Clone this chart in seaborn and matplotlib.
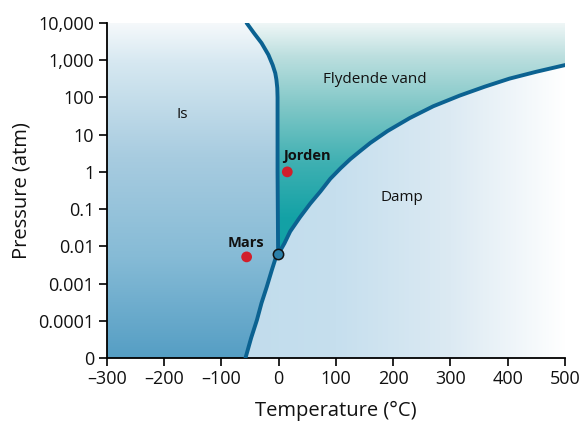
import numpy as np
import matplotlib
matplotlib.use("Agg")
import matplotlib.pyplot as plt
from matplotlib.path import Path
from matplotlib.patches import PathPatch
from matplotlib.colors import LinearSegmentedColormap
import seaborn as sns

# phase boundaries (temperature in C, pressure in atm)
melt_t = [-56, -43, -30, -18, -10.5, -6, -4, -2.5, -2, -2, -1]
melt_p = [10000, 5300, 2900, 1400, 740, 450, 300, 180, 100, 1, 0.0062]

subl_t = [-58, -48, -38, -30, -21, -12, -6, -1]
subl_p = [1e-5, 3.5e-5, 1.05e-4, 3e-4, 8e-4, 2.3e-3, 4.5e-3, 0.0062]

vap_t = [-1, 5, 10, 20, 37, 55, 73, 90, 108, 125, 141, 160, 190, 229, 270, 316, 360, 403, 450, 500]
vap_p = [0.0062, 0.0088, 0.012, 0.025, 0.06, 0.14, 0.3, 0.65, 1.25, 2.2, 3.5, 6.0, 12.5, 28, 58, 112, 195, 320, 490, 740]

triple_t, triple_p = -1, 0.0062

planet_names = ["Jorden", "Mars"]
planet_t = [15, -56]
planet_p = [1.0, 0.0052]

region_names = ["Is", "Flydende vand", "Damp"]
region_t = [-168, 168, 215]
region_p = [34, 300, 0.2]

y_ticks = [1e-5, 1e-4, 1e-3, 1e-2, 1e-1, 1, 10, 100, 1000, 10000]
y_labels = ["0", "0.0001", "0.001", "0.01", "0.1", "1", "10", "100", "1,000", "10,000"]
x_ticks = [-300, -200, -100, 0, 100, 200, 300, 400, 500]
x_labels = ["\u2013300", "\u2013200", "\u2013100", "0", "100", "200", "300", "400", "500"]

sns.set_style("ticks")
plt.rcParams["font.family"] = ["Open Sans", "DejaVu Sans"]
plt.rcParams["text.color"] = "#111111"
plt.rcParams["axes.labelcolor"] = "#111111"
plt.rcParams["xtick.color"] = "#111111"
plt.rcParams["ytick.color"] = "#111111"

fig = plt.figure(figsize=(5.81, 4.24), dpi=100)
ax = fig.add_axes([0.184, 0.1557, 0.7885, 0.7901])
ax.set_yscale("log")
ax.set_xlim(-300, 500)
ax.set_ylim(1e-5, 1e4)

x_min, x_max = -300, 500
y_min, y_max = 1e-5, 1e4

# region outlines
ice_poly = ([(x_min, y_min), (x_min, y_max)] + list(zip(melt_t, melt_p))
            + list(zip(subl_t[::-1], subl_p[::-1])))
liq_poly = list(zip(melt_t, melt_p)) + list(zip(vap_t, vap_p)) + [(x_max, y_max)]
vap_poly = list(zip(subl_t, subl_p)) + list(zip(vap_t, vap_p)) + [(x_max, y_min)]


def gradient_fill(poly, img, cmap):
    patch = PathPatch(Path(poly), transform=ax.transData,
                      facecolor="none", edgecolor="none")
    im = ax.imshow(img, cmap=cmap, extent=[0, 1, 0, 1], origin="lower",
                   transform=ax.transAxes, aspect="auto", vmin=0, vmax=1,
                   interpolation="bilinear", zorder=0)
    im.set_clip_path(patch)


n = 256
vert = np.linspace(0, 1, n)[:, None] * np.ones((1, n))
horiz = np.ones((n, 1)) * np.linspace(0, 1, n)[None, :]

ice_cmap = LinearSegmentedColormap.from_list(
    "ice", [(0, "#559ec4"), (0.3, "#86bbd6"), (0.6, "#a8cce0"), (0.88, "#d6e8f1"), (1, "#f6f9fb")])
liq_cmap = LinearSegmentedColormap.from_list(
    "liq", [(0, "#0d9fa3"), (0.42, "#14a2a6"), (0.58, "#3eb0b2"), (0.75, "#80c7c7"),
            (0.9, "#bcdfdf"), (1, "#f0f7f7")])
vap_cmap = LinearSegmentedColormap.from_list(
    "vap", [(0, "#bad8ea"), (0.5, "#c6dfee"), (0.75, "#dceaf3"), (1, "#ffffff")])

gradient_fill(ice_poly, vert, ice_cmap)
gradient_fill(liq_poly, vert, liq_cmap)
gradient_fill(vap_poly, horiz, vap_cmap)

line_col = "#0b6291"
for tt, pp in [(melt_t, melt_p), (subl_t, subl_p), (vap_t, vap_p)]:
    sns.lineplot(x=tt, y=pp, sort=False, estimator=None, color=line_col,
                 linewidth=2.8, ax=ax, zorder=3)

ax.scatter([triple_t], [triple_p], s=55, color="#2b80aa", edgecolor="#111111",
           linewidth=1.1, zorder=5)
sns.scatterplot(x=planet_t, y=planet_p, color="#d21f2b", s=60, edgecolor="none",
                ax=ax, zorder=5)

ax.text(planet_t[0] + 34, planet_p[0] * 2.6, planet_names[0], fontsize=10.5,
        fontweight="bold", ha="center", va="center")
ax.text(planet_t[1] - 2, planet_p[1] * 2.35, planet_names[1], fontsize=10.5,
        fontweight="bold", ha="center", va="center")
for name, tx, py in zip(region_names, region_t, region_p):
    ax.text(tx, py, name, fontsize=11, ha="center", va="center")

ax.set_xticks(x_ticks)
ax.set_xticklabels(x_labels)
ax.set_yticks(y_ticks)
ax.set_yticklabels(y_labels)
ax.yaxis.set_minor_locator(matplotlib.ticker.NullLocator())
ax.tick_params(axis="both", labelsize=13, length=6, width=1.2, color="black",
               direction="out", pad=3)
sns.despine(ax=ax)
for side in ["left", "bottom"]:
    ax.spines[side].set_linewidth(1.3)
    ax.spines[side].set_color("black")

ax.set_xlabel("Temperature (\u00b0C)", fontsize=14.5, labelpad=9)
ax.set_ylabel("Pressure (atm)", fontsize=14.5, labelpad=5)
ax.set_facecolor("white")

fig.savefig("out.png", dpi=100)
